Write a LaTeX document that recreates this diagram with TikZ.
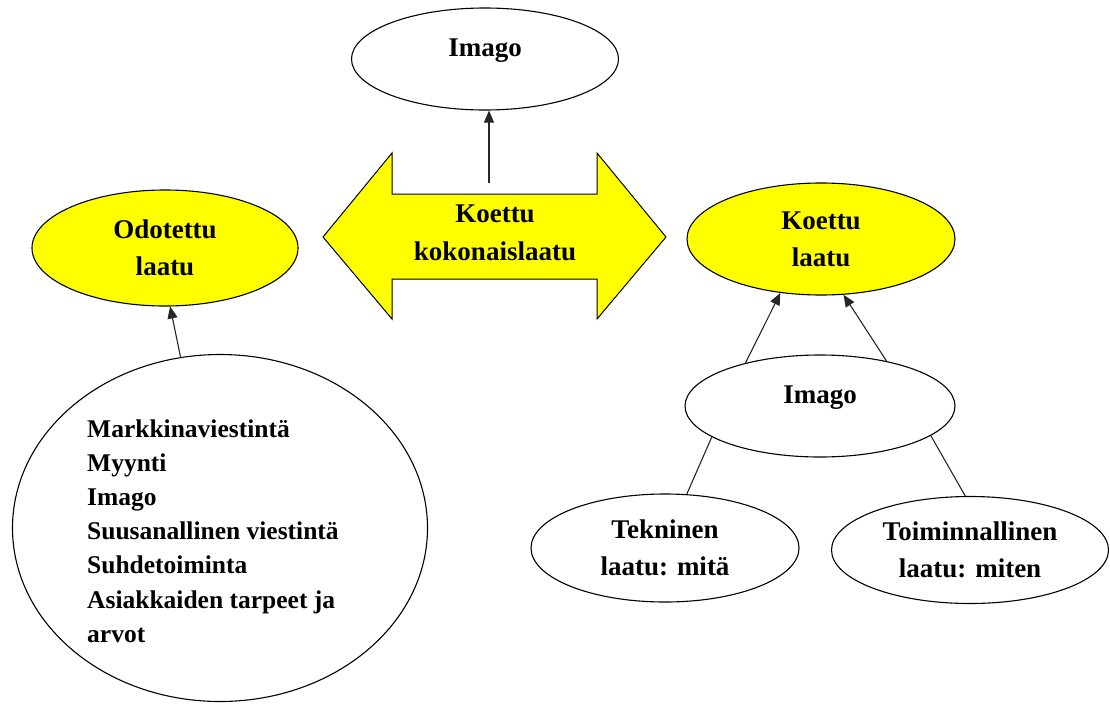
\documentclass[tikz,border=0pt]{standalone}
\usepackage{fontspec}
\setmainfont{Liberation Serif}
\usetikzlibrary{shapes.geometric,arrows.meta}
\definecolor{ylw}{HTML}{FFFF00}
\tikzset{
  oval/.style={ellipse, draw=black, line width=1.1pt, inner sep=0pt, align=center,
    font=\bfseries\fontsize{27}{37}\selectfont},
  yoval/.style={oval, fill=ylw},
  conn/.style={line width=1.1pt, draw=black!85},
  arr/.style={conn, -{Triangle[length=12pt,width=10pt]}},
  bigarrow/.style={fill=ylw, draw=black, line width=1pt, line join=miter},
  listtext/.style={align=left, inner sep=0pt, font=\bfseries\fontsize{25.5}{34.2}\selectfont},
  arrowtext/.style={align=center, inner sep=0pt, font=\bfseries\fontsize{27}{38}\selectfont},
}
\begin{document}
\begin{tikzpicture}[x=1pt,y=-1pt]
\useasboundingbox (0,0) rectangle (1110,704);
% double arrow
\draw[bigarrow] (323,237) -- (392,153) -- (392,194) -- (597,194) -- (597,153) -- (666,237)
  -- (597,319) -- (597,279) -- (392,279) -- (392,319) -- cycle;
\node[arrowtext] (kokon) at (495,233) {Koettu\\kokonaislaatu};
\coordinate (arrowstart) at (489,183);

% ellipses
\node[oval, minimum width=267pt, minimum height=102pt, text height=18pt, text depth=24pt] (imago1) at (485,59) {Imago};
\node[yoval, minimum width=266pt, minimum height=116pt] (odot) at (165,248) {Odotettu\\laatu};
\node[yoval, minimum width=268pt, minimum height=112pt] (koettu) at (821,239) {Koettu\\laatu};
\node[oval, minimum width=270pt, minimum height=102pt, text height=18pt, text depth=24pt] (imago2) at (820,406) {Imago};
\node[oval, minimum width=268pt, minimum height=108pt] (tekn) at (665,548) {Tekninen\\laatu: mitä};
\node[oval, minimum width=277pt, minimum height=107pt] (toim) at (970,550) {Toiminnallinen\\laatu: miten};
\node[oval, minimum width=415pt, minimum height=347pt] (big) at (220,528) {};
\node[listtext, anchor=west] (list) at (87,531) {Markkinaviestintä\\Myynti\\Imago\\Suusanallinen viestintä\\Suhdetoiminta\\Asiakkaiden tarpeet ja\\arvot};

% connectors
\draw[arr] (arrowstart) -- (arrowstart |- imago1.south);
\draw[arr] (big.103) -- (odot.275);
\draw[arr] (imago2.150) -- (koettu.233);
\draw[arr] (imago2.34) -- (koettu.292);
\draw[conn] (imago2.196) -- (tekn.68);
\draw[conn] (imago2.345) -- (toim.95);
\end{tikzpicture}
\end{document}
